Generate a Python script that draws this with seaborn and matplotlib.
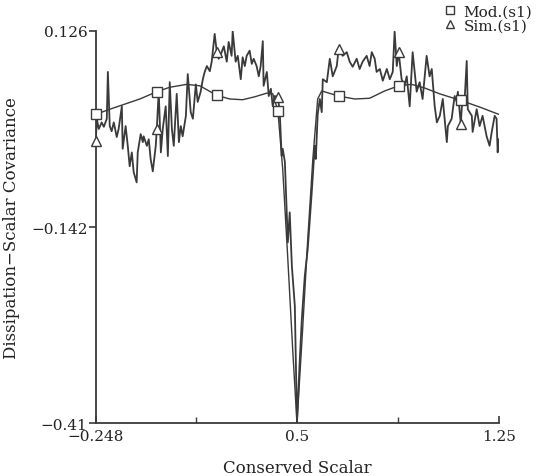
import numpy as np
import matplotlib
matplotlib.use("Agg")
import matplotlib.pyplot as plt
from matplotlib.lines import Line2D
import seaborn as sns

# simulation (jagged) curve
sim_x = [-0.248, -0.244, -0.237, -0.226, -0.218, -0.207, -0.203, -0.196, -0.189, -0.181,
         -0.170, -0.163, -0.151, -0.148, -0.137, -0.129, -0.122, -0.114, -0.107, -0.096,
         -0.092, -0.081, -0.073, -0.070, -0.058, -0.051, -0.044, -0.036, -0.025, -0.021,
         -0.014, -0.006, 0.001, 0.012, 0.020, 0.027, 0.035, 0.042, 0.053, 0.061,
         0.068, 0.075, 0.087, 0.094, 0.105, 0.113, 0.124, 0.131, 0.142, 0.150,
         0.157, 0.165, 0.176, 0.183, 0.194, 0.202, 0.209, 0.220, 0.228, 0.239,
         0.246, 0.257, 0.261, 0.272, 0.280, 0.291, 0.298, 0.306, 0.313, 0.324,
         0.332, 0.339, 0.350, 0.358, 0.365, 0.373, 0.376, 0.388, 0.395, 0.403,
         0.410, 0.417, 0.429, 0.436, 0.443, 0.447, 0.455, 0.466, 0.473, 0.481,
         0.492, 0.500, 0.510, 0.518, 0.529, 0.540, 0.547, 0.555, 0.566, 0.570,
         0.577, 0.585, 0.592, 0.596, 0.611, 0.622, 0.633, 0.648, 0.655, 0.670,
         0.685, 0.696, 0.707, 0.722, 0.733, 0.744, 0.759, 0.770, 0.778, 0.789,
         0.796, 0.808, 0.819, 0.834, 0.845, 0.856, 0.863, 0.871, 0.878, 0.889,
         0.900, 0.908, 0.919, 0.930, 0.945, 0.956, 0.967, 0.982, 0.993, 1.001,
         1.005, 1.012, 1.020, 1.031, 1.042, 1.057, 1.061, 1.075, 1.086, 1.094,
         1.098, 1.109, 1.113, 1.124, 1.131, 1.135, 1.150, 1.153, 1.168, 1.179,
         1.190, 1.205, 1.216, 1.224, 1.235, 1.242, 1.246, 1.250]
sim_y = [-0.024, 0.006, -0.008, 0.001, -0.005, 0.006, 0.070, -0.004, -0.011, 0.001,
         -0.019, -0.008, 0.023, -0.035, -0.004, -0.031, -0.059, -0.040, -0.067, -0.081,
         -0.040, -0.015, -0.026, -0.018, -0.031, -0.022, -0.049, -0.066, -0.031, -0.008,
         0.044, -0.040, -0.008, 0.023, -0.045, 0.056, -0.008, -0.031, 0.040, -0.026,
         -0.004, -0.018, 0.010, 0.067, 0.015, 0.006, 0.053, 0.029, 0.043, 0.060,
         0.070, 0.078, 0.071, 0.084, 0.122, 0.097, 0.088, 0.097, 0.105, 0.084,
         0.111, 0.092, 0.126, 0.084, 0.092, 0.060, 0.090, 0.078, 0.092, 0.099,
         0.081, 0.088, 0.078, 0.064, 0.078, 0.112, 0.051, 0.070, 0.037, 0.047,
         0.023, 0.037, 0.036, 0.015, -0.045, -0.035, -0.053, -0.163, -0.122, -0.195,
         -0.250, -0.410, -0.327, -0.268, -0.209, -0.172, -0.135, -0.094, -0.031, -0.049,
         0.012, 0.033, 0.015, 0.060, 0.056, 0.088, 0.064, 0.078, 0.102, 0.092,
         0.097, 0.084, 0.077, 0.088, 0.074, 0.084, 0.092, 0.078, 0.097, 0.088,
         0.070, 0.074, 0.058, 0.074, 0.060, 0.070, 0.125, 0.078, 0.097, 0.060,
         0.051, 0.064, 0.023, 0.097, 0.043, 0.056, 0.033, 0.092, 0.064, 0.074,
         0.056, 0.023, 0.001, 0.010, 0.033, -0.026, -0.004, 0.006, 0.037, 0.029,
         0.043, -0.001, 0.023, 0.037, 0.085, 0.019, 0.010, -0.012, 0.019, -0.004,
         0.010, -0.018, -0.031, -0.012, 0.010, 0.006, -0.040, -0.022]

# model (smooth) curve
mod_x = [-0.248, -0.196, -0.140, -0.084, -0.021, 0.027, 0.090, 0.139, 0.202, 0.250,
         0.298, 0.343, 0.388, 0.410, 0.429, 0.447, 0.466, 0.484, 0.500, 0.521,
         0.540, 0.559, 0.577, 0.592, 0.655, 0.715, 0.770, 0.826, 0.878, 0.926,
         0.975, 1.031, 1.109, 1.179, 1.250]
mod_y = [0.012, 0.019, 0.026, 0.033, 0.043, 0.049, 0.053, 0.051, 0.038, 0.033,
         0.032, 0.036, 0.041, 0.040, 0.017, -0.063, -0.186, -0.309, -0.410, -0.282,
         -0.159, -0.049, 0.033, 0.044, 0.037, 0.033, 0.034, 0.044, 0.051, 0.053,
         0.048, 0.040, 0.031, 0.022, 0.012]

# x positions where symbols are drawn
mark_x = [-0.248, -0.021, 0.202, 0.429, 0.655, 0.878, 1.109]

x_ticks = [-0.248, 0.5, 1.25]
x_ticklabels = ["\u22120.248", "0.5", "1.25"]
y_ticks = [-0.41, -0.142, 0.126]
y_ticklabels = ["\u22120.41", "\u22120.142", "0.126"]

sns.set_theme(style="white")
plt.rcParams["font.family"] = ["DejaVu Serif"]

ink = "#3a3a3a"

fig = plt.figure(figsize=(5.38, 4.77), dpi=100)
ax = fig.add_axes([0.178, 0.111, 0.749, 0.822])

sns.lineplot(x=sim_x, y=sim_y, ax=ax, color=ink, linewidth=1.3, estimator=None, sort=False)
sns.lineplot(x=mod_x, y=mod_y, ax=ax, color=ink, linewidth=1.0, estimator=None, sort=False)

sim_idx = [sim_x.index(v) for v in mark_x]
mod_idx = [mod_x.index(v) for v in mark_x]
ax.plot([sim_x[i] for i in sim_idx], [sim_y[i] for i in sim_idx], linestyle="none",
        marker="^", markersize=7.5, markerfacecolor="white", markeredgecolor=ink,
        markeredgewidth=1.0, clip_on=False, zorder=5)
ax.plot([mod_x[i] for i in mod_idx], [mod_y[i] for i in mod_idx], linestyle="none",
        marker="s", markersize=7, markerfacecolor="white", markeredgecolor=ink,
        markeredgewidth=1.0, clip_on=False, zorder=5)

ax.set_xlim(-0.248, 1.25)
ax.set_ylim(-0.41, 0.126)
ax.set_xticks(x_ticks)
ax.set_xticklabels(x_ticklabels)
ax.set_xticks([0.126, 0.875], minor=True)
ax.set_yticks(y_ticks)
ax.set_yticklabels(y_ticklabels)

for side in ["top", "right"]:
    ax.spines[side].set_visible(False)
for side in ["left", "bottom"]:
    ax.spines[side].set_color(ink)
    ax.spines[side].set_linewidth(1.3)

ax.tick_params(axis="x", which="major", direction="in", length=5, width=1.2,
               color=ink, labelsize=11, labelcolor="#222222", pad=4, bottom=True)
ax.tick_params(axis="x", which="minor", direction="in", length=4, width=1.0,
               color=ink, bottom=True)
ax.tick_params(axis="y", which="major", direction="out", length=5, width=1.2,
               color=ink, labelsize=11, labelcolor="#222222", pad=1, left=True)

ax.set_xlabel("Conserved Scalar", fontsize=12, color="#222222", labelpad=12)
ax.set_ylabel("Dissipation\u2212Scalar Covariance", fontsize=12, color="#222222", labelpad=8)

handles = [
    Line2D([], [], linestyle="none", marker="s", markersize=6, markerfacecolor="white",
           markeredgecolor=ink, markeredgewidth=1.0),
    Line2D([], [], linestyle="none", marker="^", markersize=6, markerfacecolor="white",
           markeredgecolor=ink, markeredgewidth=1.0),
]
fig.legend(handles, ["Mod.(s1)", "Sim.(s1)"], loc="upper right",
           bbox_to_anchor=(0.998, 0.998), frameon=False, fontsize=11,
           handlelength=0.8, handletextpad=0.5, labelspacing=0.0,
           borderaxespad=0.1, borderpad=0.2, labelcolor="#222222")

fig.savefig("out.png", dpi=100, facecolor="white")
